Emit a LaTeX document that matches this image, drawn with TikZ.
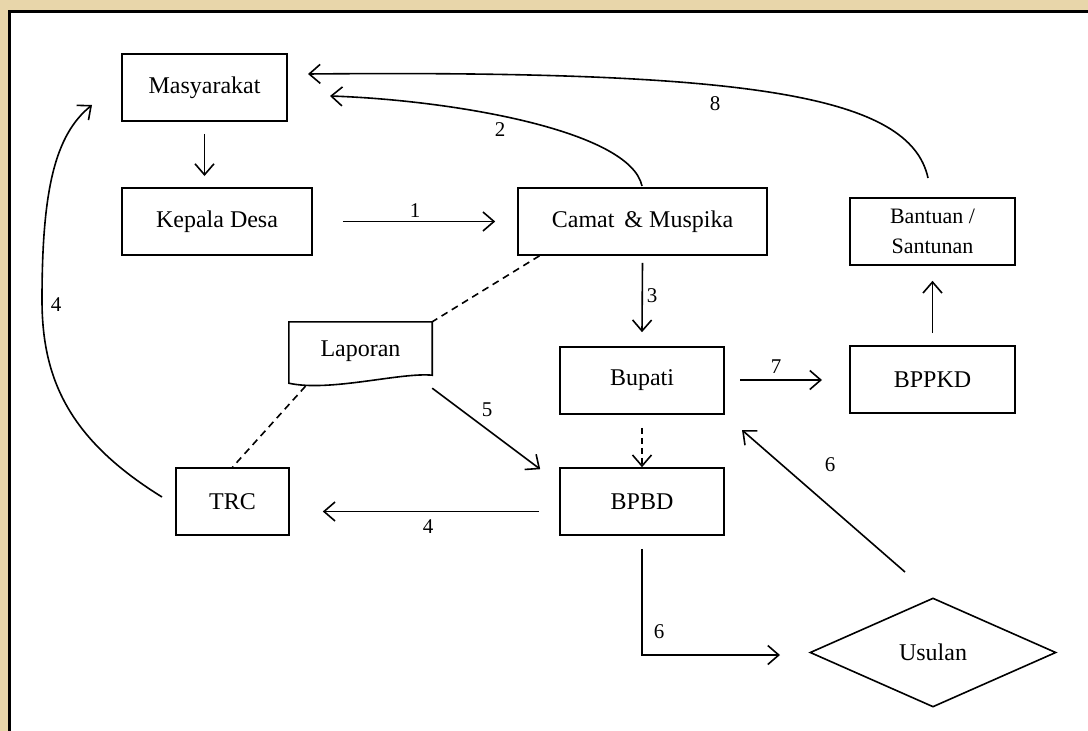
\documentclass[tikz,border=0pt]{standalone}
\usepackage{fontspec}
\setmainfont{Liberation Serif}
\usetikzlibrary{arrows.meta,shapes.geometric}
\definecolor{bgwm}{RGB}{232,214,170}
\tikzset{
  box/.style={draw, line width=1.6pt, minimum height=67pt, inner sep=2pt, font=\fontsize{24}{28}\selectfont, align=center},
  conn/.style={line width=1.6pt, -{Straight Barb[length=11pt,width=19pt,line width=1.6pt]}},
  dline/.style={line width=1.6pt, dashed, dash pattern=on 7pt off 5pt},
  lbl/.style={font=\fontsize{21}{24}\selectfont, inner sep=1pt}
}
\begin{document}
\begin{tikzpicture}[x=1pt,y=-1pt]
\useasboundingbox (0,0) rectangle (1088,731);
\fill[bgwm] (0,0) rectangle (1088,731);
\fill[white] (9,11) rectangle (1088,731);
\draw[line width=3pt] (9,731) -- (9,11) -- (1088,11);

\node[box, minimum width=165pt] (mas) at (204.5,87.5) {Masyarakat};
\node[box, minimum width=190pt] (kd) at (217,221.5) {Kepala Desa};
\node[box, minimum width=249pt] (cm) at (642.5,221.5) {Camat \,\& Muspika};
\node[box, minimum width=165pt, font=\fontsize{22}{30}\selectfont] (ban) at (932.5,231.5) {Bantuan /\\Santunan};
\node[box, minimum width=164pt] (bup) at (642,380.5) {Bupati};
\node[box, minimum width=165pt] (bppkd) at (932.5,379.5) {BPPKD};
\node[box, minimum width=113pt] (trc) at (232.5,501.5) {TRC};
\node[box, minimum width=164pt] (bpbd) at (642,501.5) {BPBD};
\node[draw, diamond, line width=1.6pt, aspect=2.26, minimum width=246pt, minimum height=109pt, inner sep=0pt, font=\fontsize{24}{28}\selectfont] (usl) at (933,652.5) {Usulan};
\node[minimum width=143pt, minimum height=58pt, inner sep=0pt, font=\fontsize{24}{28}\selectfont] (lap) at (360.5,351) {Laporan};
\draw[line width=1.6pt] (lap.north west) -- (lap.north east) -- ([yshift=5pt]lap.south east)
  .. controls ([xshift=-32pt,yshift=8pt]lap.south east) and ([xshift=41pt,yshift=-12pt]lap.south west) .. ([yshift=-3pt]lap.south west) -- cycle;

\coordinate (mk) at (204.5,176);
\coordinate (a2s) at (642,186);
\coordinate (a2e) at (330,96);
\coordinate (a8s) at (928,178);
\coordinate (a8e) at (308,74);
\coordinate (a4s) at (162,497);
\coordinate (a4e) at (92,105);
\coordinate (c6) at (642,655);
\coordinate (c6e) at (780,655);
\coordinate (u6) at (905,572);
\coordinate (b6) at (742,430);
\coordinate (b7) at (740,380);
\coordinate (b7e) at (822,380);

% arrows
\draw[conn] ([yshift=-12pt]mas.south) -- (mk);
\draw[conn] ([xshift=30pt]kd.east) -- ([xshift=-22pt]cm.west);
\node[lbl] (l1) at (415,211) {1};
\draw[conn] (a2s) .. controls (630,130) and (450,100) .. (a2e);
\node[lbl] (l2) at (500,130) {2};
\draw[conn] (a8s) .. controls (910,95) and (750,70) .. (a8e);
\node[lbl] (l8) at (715,104) {8};
\draw[conn] ([yshift=-7pt]cm.south) -- ([yshift=14pt]bup.north);
\node[lbl] (l3) at (652,296) {3};
\draw[dline] ([xshift=-103pt]cm.south) -- (lap.north east);
\draw[dline] ([xshift=-55pt,yshift=-6pt]lap.south) -- (trc.north);
\draw[conn] ([yshift=-8pt]lap.south east) -- ([xshift=-19pt,yshift=-2pt]bpbd.north west);
\node[lbl] (l5) at (487,410) {5};
\draw[conn, dashed, dash pattern=on 6pt off 4pt] ([yshift=-13pt]bup.south) -- (bpbd.north);
\draw[conn] (b7) -- (b7e);
\node[lbl] (l7) at (776,367) {7};
\draw[conn] ([yshift=12pt]bppkd.north) -- ([yshift=-15pt]ban.south);
\draw[conn] ([xshift=-20pt,yshift=-10pt]bpbd.west) -- ([xshift=33pt,yshift=-10pt]trc.east);
\node[lbl] (l4a) at (428,527) {4};
\draw[conn] (a4s) .. controls (70,440) and (42,380) .. (42,300) .. controls (42,190) and (55,135) .. (a4e);
\node[lbl] (l4b) at (56,305) {4};
\draw[conn] ([yshift=-13pt]bpbd.south) -- (c6) -- (c6e);
\node[lbl] (l6a) at (659,632) {6};
\draw[conn] (u6) -- (b6);
\node[lbl] (l6b) at (830,465) {6};
\end{tikzpicture}
\end{document}
